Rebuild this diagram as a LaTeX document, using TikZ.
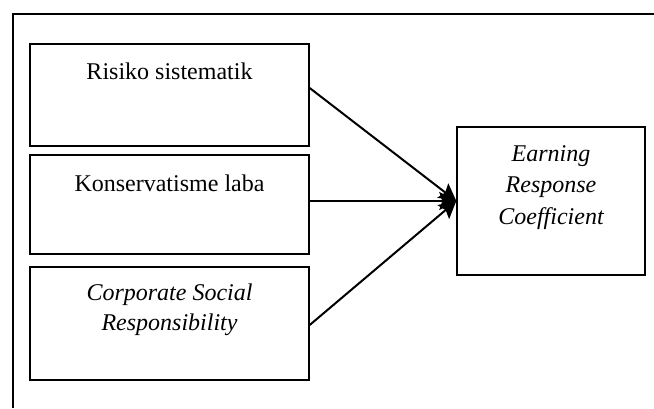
\documentclass[tikz,border=0pt]{standalone}
\usepackage{fontspec}
\setmainfont{Liberation Serif}
\usetikzlibrary{arrows.meta,calc}
\begin{document}
\begin{tikzpicture}[x=1pt,y=-1pt,
  box/.style={draw,line width=1.4pt,rectangle,inner sep=0pt,minimum width=279pt},
  ertbox/.style={draw,line width=1.4pt,rectangle,inner sep=0pt},
  lbl/.style={anchor=base,inner sep=0pt,align=center,font=\fontsize{24}{30}\selectfont},
  conn/.style={line width=2pt,-{Stealth[length=17pt,width=18pt,inset=3pt]}}]
\useasboundingbox (0,0) rectangle (654,408);
\coordinate (fTR) at (654,14);
\coordinate (fTL) at (13,14);
\coordinate (fBL) at (13,408);
\draw[line width=1.5pt] (fTR) -- (fTL) -- (fBL);
\node[box,minimum height=102pt] (b1) at (169.5,95) {};
\node[box,minimum height=99pt] (b2) at (169.5,204.5) {};
\node[box,minimum height=113pt] (b3) at (169.5,323.5) {};
\node[ertbox,minimum width=188pt,minimum height=148pt] (er) at (551,201) {};
\node[lbl] (t1) at (169.5,79) {Risiko sistematik};
\node[lbl] (t2) at (169.5,191) {Konservatisme laba};
\node[lbl] (t3) at (169.5,330) {\itshape Corporate Social\\\itshape Responsibility};
\node[lbl,font=\fontsize{24}{31.5}\selectfont] (t4) at (551,224) {\itshape Earning\\\itshape Response\\\itshape Coefficient};
\draw[conn] ([yshift=7pt]b1.east) -- (er.west);
\draw[conn] ([yshift=3.5pt]b2.east) -- (er.west);
\draw[conn] ([yshift=-1.5pt]b3.east) -- (er.west);
\end{tikzpicture}
\end{document}
